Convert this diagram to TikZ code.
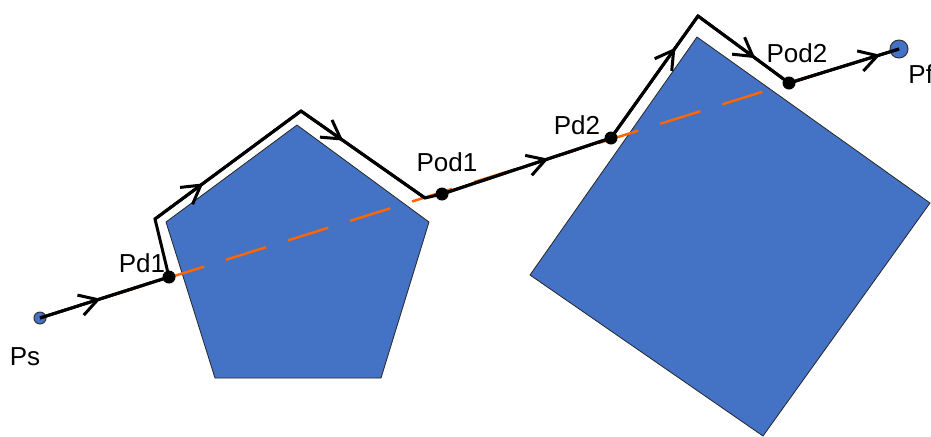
\documentclass[tikz,border=0pt]{standalone}
\usepackage{fontspec}
\setmainfont{Liberation Sans}
\usetikzlibrary{arrows.meta,decorations.markings}
\definecolor{shapeblue}{RGB}{68,114,196}
\definecolor{rayorange}{RGB}{255,102,0}

\tikzset{
  obstacle/.style={fill=shapeblue, draw=black!85, line width=0.4pt},
  route/.style={line width=1.5pt, line join=miter},
  midarrow/.style={postaction={decorate}, decoration={markings,
      mark=at position #1 with {\arrow{Straight Barb[length=9pt,width=10.5pt]}}}},
  hitpt/.style={circle, fill=black, inner sep=0pt, minimum size=6.5pt},
  endpt/.style={circle, fill=shapeblue, draw=black!80, line width=0.5pt, inner sep=0pt},
  lbl/.style={font=\fontsize{13}{15}\selectfont, inner sep=0pt}
}

\begin{document}
\begin{tikzpicture}[x=0.5pt, y=-0.5pt]
    \useasboundingbox (0,0) rectangle (931,436);

    % Obstacles
    \draw[obstacle] (297,125) -- (429,222) -- (381,378) -- (215,378) -- (166,222) -- cycle;
    \draw[obstacle] (697,37) -- (930,203) -- (763,436) -- (530,275) -- cycle;

    % Start and goal
    \node[endpt, minimum size=6pt] (ps) at (40,318) {};
    \node[endpt, minimum size=9pt] (pf) at (899,49) {};

    % Straight line from start to goal
    \draw[rayorange, line width=1.25pt, dash pattern=on 21pt off 11.5pt] (ps.center) -- (pf.center);

    % Hit points and corners
    \coordinate (pd1) at (169,277);
    \coordinate (pod1) at (442,194);
    \coordinate (pd2) at (611,138);
    \coordinate (pod2) at (789,83);
    \coordinate (a1) at (155,219);
    \coordinate (a2) at (301,111);
    \coordinate (a3) at (425,198);
    \coordinate (b1) at (698,16);

    % Path around obstacles
    \draw[route] (ps.center) -- (pd1) -- (a1) -- (a2) -- (a3) -- (pod1) -- (pd2) -- (b1) -- (pod2) -- (pf.center);
    \foreach \from/\to/\pos in {ps.center/pd1/0.47, a1/a2/0.33, a2/a3/0.34, pod1/pd2/0.63,
                                pd2/b1/0.74, b1/pod2/0.63, pod2/pf.center/0.83} {
        \draw[route, midarrow=\pos] (\from) -- (\to);
    }

    % Dots
    \foreach \p in {pd1,pod1,pd2,pod2} {
        \node[hitpt] (\p-dot) at (\p) {};
    }

    % Labels
    \node[lbl] (ps-lbl) at (25,357) {Ps};
    \node[lbl] (pd1-lbl) at (142,263) {Pd1};
    \node[lbl] (pod1-lbl) at (447,162) {Pod1};
    \node[lbl] (pd2-lbl) at (577,125) {Pd2};
    \node[lbl] (pod2-lbl) at (797,53) {Pod2};
    \node[lbl, anchor=west] (pf-lbl) at (908,74) {Pf};
\end{tikzpicture}
\end{document}
